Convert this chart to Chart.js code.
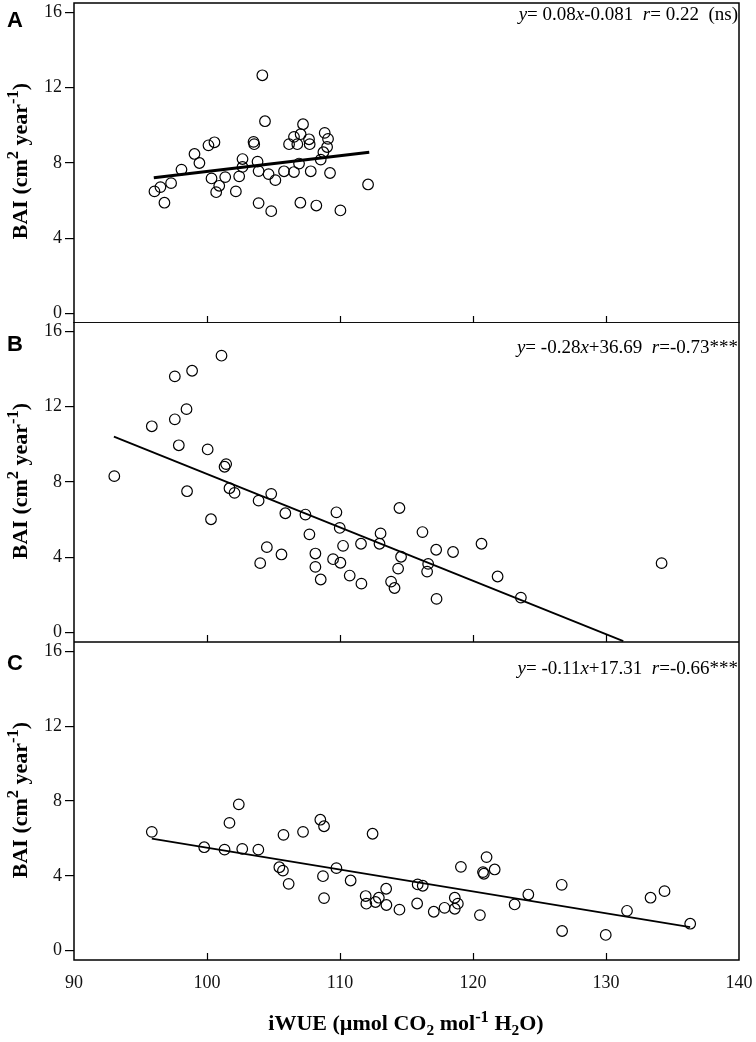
<!DOCTYPE html>
<html>
<head>
<meta charset="utf-8">
<script src="https://cdn.jsdelivr.net/npm/chart.js@4.4.1/dist/chart.umd.min.js"></script>
<style>
  body { margin: 0; background: #fff; }
  #wrap { position: relative; width: 756px; height: 1042px; overflow: hidden; font-family: "Liberation Serif", "Times New Roman", serif; color: #000; }
  canvas { position: absolute; left: 0; }
  .lbl { position: absolute; left: 7px; font-family: "Liberation Sans", Arial, sans-serif; font-weight: bold; font-size: 22px; line-height: 1; }
  .ytitle { position: absolute; left: 18px; white-space: nowrap; font-weight: bold; font-size: 22px; transform: translate(-50%, -50%) rotate(-90deg); }
  .ytitle sup, .xtitle sup { font-size: 0.75em; }
  .xtitle { position: absolute; left: 406px; top: 1023px; white-space: nowrap; font-weight: bold; font-size: 22px; transform: translate(-50%, -50%); }
  .xtitle sub { font-size: 0.7em; }
  .eq { position: absolute; right: 18px; font-size: 19px; white-space: nowrap; line-height: 1; }
</style>
</head>
<body>
<div id="wrap">
  <canvas id="panelA" width="756" height="323" style="top:0px"></canvas>
  <canvas id="panelB" width="756" height="320" style="top:322px"></canvas>
  <canvas id="panelC" width="756" height="400" style="top:642px"></canvas>

  <div class="lbl" style="top:9px">A</div>
  <div class="lbl" style="top:333px">B</div>
  <div class="lbl" style="top:652px">C</div>

  <div class="ytitle" style="top:161px">BAI (cm<sup>2</sup> year<sup>-1</sup>)</div>
  <div class="ytitle" style="top:481px">BAI (cm<sup>2</sup> year<sup>-1</sup>)</div>
  <div class="ytitle" style="top:800px">BAI (cm<sup>2</sup> year<sup>-1</sup>)</div>

  <div class="eq" style="top:4px"><i>y</i>= 0.08<i>x</i>-0.081&nbsp;&nbsp;<i>r</i>= 0.22&nbsp;&nbsp;(ns)</div>
  <div class="eq" style="top:337px"><i>y</i>= -0.28<i>x</i>+36.69&nbsp;&nbsp;<i>r</i>=-0.73***</div>
  <div class="eq" style="top:658px"><i>y</i>= -0.11<i>x</i>+17.31&nbsp;&nbsp;<i>r</i>=-0.66***</div>

  <div class="xtitle">iWUE (µmol CO<sub>2</sub> mol<sup>-1</sup> H<sub>2</sub>O)</div>
</div>

<script>
// tick labels
const xTicks = [90, 100, 110, 120, 130, 140];
const yTicks = [0, 4, 8, 12, 16];

// panel A (ns)
const aX = [96.05, 96.5, 96.8, 97.3, 98.08, 99.06, 99.43, 100.11, 100.56, 100.34, 100.92, 100.69, 101.37, 102.17, 102.42, 102.67, 102.67, 103.5, 103.55, 103.8, 103.88, 103.88, 104.16, 104.36, 104.63, 104.83, 105.14, 105.79, 106.17, 106.54, 106.54, 106.79, 106.92, 107.02, 107.04, 107.22, 107.67, 107.72, 107.8, 108.22, 108.55, 108.75, 108.85, 109.1, 109.03, 109.25, 110.03, 112.11];
const aY = [6.49, 6.72, 5.89, 6.93, 7.65, 8.48, 8.0, 8.94, 9.1, 7.18, 6.79, 6.45, 7.25, 6.49, 7.29, 7.79, 8.21, 9.12, 9.0, 8.07, 7.57, 5.87, 12.66, 10.22, 7.41, 5.44, 7.09, 7.56, 9.0, 7.52, 9.39, 9.0, 7.97, 5.89, 9.53, 10.06, 9.26, 9.0, 7.56, 5.74, 8.18, 8.57, 9.6, 9.28, 8.85, 7.47, 5.48, 6.86];
const aFitX = [96.0, 112.2];
const aFitY = [7.22, 8.57];

// panel B
const bX = [93.03, 95.85, 97.58, 98.88, 101.09, 97.58, 98.46, 97.88, 98.5, 100.05, 100.3, 101.44, 101.32, 101.69, 102.07, 103.88, 104.83, 104.5, 104.0, 105.6, 105.89, 107.4, 107.7, 108.15, 108.15, 108.55, 109.48, 109.73, 109.98, 110.23, 110.03, 110.73, 111.61, 111.58, 112.97, 113.05, 114.47, 113.84, 114.1, 114.37, 114.59, 116.2, 116.55, 116.63, 117.23, 117.26, 118.5, 120.64, 121.85, 123.6, 134.18];
const bY = [8.31, 10.96, 13.61, 13.91, 14.71, 11.33, 11.87, 9.95, 7.51, 9.73, 6.02, 8.95, 8.81, 7.67, 7.42, 7.01, 7.37, 4.54, 3.69, 4.15, 6.34, 6.27, 5.22, 4.2, 3.49, 2.82, 3.9, 6.39, 5.56, 4.61, 3.71, 3.03, 2.6, 4.72, 4.72, 5.27, 6.62, 2.71, 2.37, 3.4, 4.03, 5.34, 3.24, 3.65, 4.4, 1.79, 4.28, 4.72, 2.98, 1.86, 3.69];
const bFitX = [93.0, 131.3];
const bFitY = [10.41, -0.45];

// panel C
const cX = [95.85, 99.79, 101.32, 101.69, 102.39, 102.65, 103.86, 105.44, 105.71, 105.75, 106.14, 107.22, 108.52, 108.8, 108.72, 108.8, 109.73, 110.8, 111.93, 111.98, 112.45, 112.67, 112.92, 113.47, 113.49, 114.47, 115.8, 115.84, 116.22, 117.05, 117.86, 118.63, 118.86, 118.63, 119.09, 120.52, 120.82, 120.75, 121.02, 121.63, 123.13, 124.16, 126.67, 126.7, 129.98, 131.58, 133.35, 134.4, 136.33];
const cY = [6.35, 5.53, 5.4, 6.83, 7.82, 5.44, 5.4, 4.46, 4.28, 6.19, 3.57, 6.35, 7.0, 6.65, 3.98, 2.81, 4.41, 3.75, 2.92, 2.51, 6.25, 2.6, 2.83, 3.31, 2.44, 2.19, 2.52, 3.54, 3.47, 2.08, 2.29, 2.83, 2.51, 2.24, 4.48, 1.9, 4.11, 4.2, 5.0, 4.34, 2.47, 3.0, 3.52, 1.05, 0.84, 2.13, 2.83, 3.18, 1.44];
const cFitX = [95.85, 136.33];
const cFitY = [5.99, 1.26];

const toPts = (xs, ys) => xs.map((x, i) => ({ x: x, y: ys[i] }));

// full frame + inward x ticks (the library only draws outward ticks)
const framePlugin = {
  id: 'frame',
  afterDraw(chart) {
    const c = chart.ctx, a = chart.chartArea, xs = chart.scales.x;
    c.save();
    c.strokeStyle = '#000';
    c.lineWidth = 1.5;
    c.strokeRect(a.left, a.top, a.right - a.left, a.bottom - a.top);
    c.beginPath();
    xTicks.slice(1, -1).forEach(v => {
      const px = Math.round(xs.getPixelForValue(v)) + 0.5;
      c.moveTo(px, a.bottom);
      c.lineTo(px, a.bottom - 7);
    });
    c.lineWidth = 1.2;
    c.stroke();
    c.restore();
  }
};

function makePanel(id, xs, ys, fx, fy, fitWidth, isBottom, padTop) {
  const ctx = document.getElementById(id);
  if (!ctx) return;

  new Chart(ctx.getContext('2d'), {
    type: 'scatter',
    data: {
      datasets: [
        {
          data: toPts(xs, ys),
          pointRadius: 5.3,
          pointBorderWidth: 1.2,
          pointBorderColor: '#000',
          pointBackgroundColor: 'rgba(0,0,0,0)'
        },
        {
          data: toPts(fx, fy),
          showLine: true,
          borderColor: '#000',
          borderWidth: fitWidth,
          pointRadius: 0,
          fill: false
        }
      ]
    },
    options: {
      responsive: false,
      animation: false,
      devicePixelRatio: 1,
      layout: { autoPadding: false, padding: { top: padTop, right: 17, left: 0, bottom: 0 } },
      plugins: { legend: { display: false }, tooltip: { enabled: false } },
      scales: {
        x: {
          type: 'linear',
          min: 90,
          max: 140,
          afterBuildTicks: s => { s.ticks = xTicks.map(v => ({ value: v })); },
          afterFit: s => {
            s.height = isBottom ? 82 : 0;
            s.paddingLeft = 0; s.paddingRight = 0;
          },
          grid: { display: false },
          border: { display: false },
          ticks: {
            display: isBottom,
            padding: 4,
            maxRotation: 0,
            color: '#111',
            font: { family: 'Liberation Serif', size: 18 }
          }
        },
        y: {
          min: -0.5,
          max: 16.5,
          afterBuildTicks: s => { s.ticks = yTicks.map(v => ({ value: v })); },
          afterFit: s => {
            s.width = 74;
            s.paddingTop = 0; s.paddingBottom = 0;
          },
          grid: { drawOnChartArea: false, drawTicks: true, tickLength: 9, color: '#000', lineWidth: 1.2 },
          border: { display: false },
          ticks: {
            padding: 3,
            color: '#111',
            font: { family: 'Liberation Serif', size: 18 }
          }
        }
      }
    },
    plugins: [framePlugin]
  });
}

document.addEventListener("DOMContentLoaded", () => {
  makePanel('panelA', aX, aY, aFitX, aFitY, 3, false, 3);
  makePanel('panelB', bX, bY, bFitX, bFitY, 1.8, false, 0);
  makePanel('panelC', cX, cY, cFitX, cFitY, 1.8, true, 0);
});
</script>
</body>
</html>
